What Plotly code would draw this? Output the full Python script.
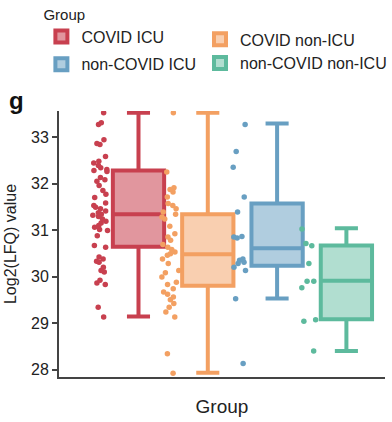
import plotly.graph_objects as go

groups = ["COVID ICU", "COVID non-ICU", "non-COVID ICU", "non-COVID non-ICU"]
legend_ids = ["legend", "legend2", "legend", "legend2"]
line_colors = ["#C8404F", "#F3A062", "#689FC2", "#5DBA9D"]
fill_colors = ["rgba(200,64,79,0.55)", "rgba(243,160,98,0.5)", "rgba(104,159,194,0.52)", "rgba(93,186,157,0.48)"]

# box statistics
q1 = [30.64, 29.80, 30.23, 29.08]
median = [31.34, 30.48, 30.61, 29.91]
q3 = [32.28, 31.34, 31.57, 30.67]
lowerfence = [29.14, 27.93, 29.53, 28.40]
upperfence = [33.52, 33.52, 33.29, 31.04]

# sample points
covid_icu = [33.52, 33.31, 33.27, 32.94, 32.86, 32.84, 32.58, 32.48, 32.44, 32.39,
             32.34, 32.30, 32.28, 32.26, 32.13, 32.08, 32.05, 31.96, 31.85, 31.77,
             31.70, 31.58, 31.53, 31.49, 31.46, 31.41, 31.37, 31.34, 31.32, 31.29,
             31.24, 31.19, 31.15, 31.10, 31.06, 31.01, 30.99, 30.88, 30.67, 30.63,
             30.42, 30.38, 30.33, 30.31, 30.20, 30.13, 30.10, 29.92, 29.86, 29.83,
             29.34, 29.13]
covid_nonicu = [33.52, 32.25, 31.91, 31.87, 31.82, 31.71, 31.57, 31.53, 31.46, 31.39,
                31.34, 31.28, 31.24, 31.08, 30.92, 30.85, 30.78, 30.69, 30.63, 30.58,
                30.53, 30.49, 30.46, 30.38, 30.28, 30.13, 30.08, 29.99, 29.88, 29.83,
                29.74, 29.67, 29.62, 29.56, 29.50, 29.42, 29.34, 29.24, 29.13, 28.34,
                27.92]
noncovid_icu = [33.27, 32.69, 32.35, 31.71, 31.39, 30.86, 30.85, 30.83, 30.38, 30.35,
                30.31, 30.28, 30.20, 30.13, 29.52, 28.13]
noncovid_nonicu = [31.02, 30.71, 30.66, 30.28, 29.90, 29.90, 29.76, 29.07, 29.04, 28.40]
points = [covid_icu, covid_nonicu, noncovid_icu, noncovid_nonicu]

positions = [0, 1, 2, 3]
box_width = 0.74

fig = go.Figure()
for i, g in enumerate(groups):
    fig.add_trace(go.Box(
        name=g, x=[positions[i]], q1=[q1[i]], median=[median[i]], q3=[q3[i]],
        lowerfence=[lowerfence[i]], upperfence=[upperfence[i]],
        width=box_width, whiskerwidth=0.45,
        line=dict(color=line_colors[i], width=4), fillcolor=fill_colors[i],
        boxpoints=False, showlegend=True, legendgroup=g, legend=legend_ids[i],
    ))
for i, g in enumerate(groups):
    fig.add_trace(go.Box(
        name=g, x=[positions[i]] * len(points[i]), y=points[i],
        width=box_width, boxpoints="all", jitter=0.4, pointpos=-1.45,
        line=dict(color="rgba(0,0,0,0)", width=0), fillcolor="rgba(0,0,0,0)",
        marker=dict(color=line_colors[i], size=5.5),
        showlegend=False, legendgroup=g, legend=legend_ids[i],
    ))

font = "Liberation Sans, Arial, sans-serif"
legend_common = dict(orientation="v", xref="paper", yref="container",
                     xanchor="left", yanchor="top", font=dict(size=16),
                     itemwidth=30, traceorder="grouped",
                     bgcolor="rgba(0,0,0,0)")
fig.update_layout(
    width=392, height=422,
    margin=dict(l=59, r=7, t=111, b=45),
    paper_bgcolor="white", plot_bgcolor="white",
    boxmode="overlay",
    font=dict(family=font, size=16, color="#222"),
    legend=dict(x=-0.054, y=1.015, tracegroupgap=4,
                title=dict(text="Group", side="top", font=dict(size=15)),
                **legend_common),
    legend2=dict(x=0.436, y=0.947, tracegroupgap=0, **legend_common),
    xaxis=dict(range=[-1.147, 3.557], showticklabels=False, ticks="",
               showline=True, linecolor="#444", linewidth=2, showgrid=False,
               zeroline=False, title=dict(text="Group", font=dict(size=19), standoff=22)),
    yaxis=dict(range=[27.84, 33.56], tickvals=[28, 29, 30, 31, 32, 33],
               ticks="outside", ticklen=5, tickwidth=2, tickcolor="#444",
               showline=True, linecolor="#444", linewidth=2, showgrid=False,
               zeroline=False, tickfont=dict(size=16),
               title=dict(text="Log2(LFQ) value", font=dict(size=16), standoff=10)),
    annotations=[dict(text="<b>g</b>", x=-0.13, y=1.04, xref="x domain", yref="y domain",
                      xanchor="center", yanchor="middle", showarrow=False,
                      font=dict(size=24, color="#111"))],
)
fig.write_html("out.html")
